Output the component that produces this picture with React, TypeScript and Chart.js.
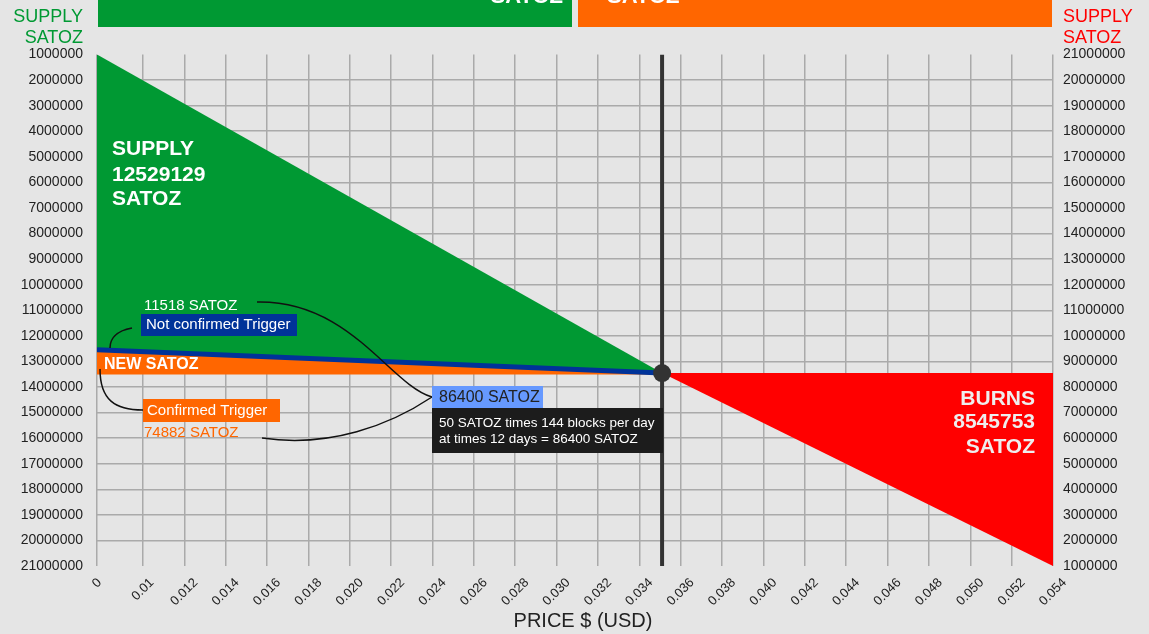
import React, { useEffect, useRef } from "react";
import { Chart, registerables } from "chart.js";

Chart.register(...registerables);

// ---- data ----
const X_LABELS = ["0", "0.01", "0.012", "0.014", "0.016", "0.018", "0.020", "0.022", "0.024", "0.026", "0.028", "0.030", "0.032", "0.034", "0.036", "0.038", "0.040", "0.042", "0.044", "0.046", "0.048", "0.050", "0.052", "0.054"];
// tick positions on the index scale ("0" sits a bit further left than the regular spacing)
const X_TICK_POS = [-1.11, 0, 1, 2, 3, 4, 5, 6, 7, 8, 9, 10, 11, 12, 13, 14, 15, 16, 17, 18, 19, 20, 21, 22];

const Y_MIN = 1000000;
const Y_MAX = 21000000;
const Y_STEP = 1000000;

// left part (supply), x on index scale
const SUPPLY_X = [-1.11, 12.55];
const SUPPLY_TOP = [1000000, 13454247];
const SUPPLY_BOTTOM = [12543000, 13454247];
const NEW_SATOZ_BOTTOM = [13512000, 13512000];

// right part (burns), values on the right axis
const BURN_X = [12.55, 22];
const BURN_TOP = [8545753, 8545753];
const BURN_BOTTOM = [8545753, 1000000];

const PRICE_X = 12.55;
const PRICE_POINT = 13454247;

const GREEN = "#009933";
const ORANGE = "#ff6600";
const RED = "#ff0000";
const BLUE = "#003399";
const FONT = '"Liberation Sans", Arial, sans-serif';

const zip = (xs: number[], ys: number[]) => xs.map((x, i) => ({ x, y: ys[i] }));

const annotate = {
  id: "annotate",
  afterDraw(chart: any) {
    const ctx = chart.ctx as CanvasRenderingContext2D;
    ctx.save();

    // rotated x tick labels, centred on their tick
    const xs = chart.scales.x;
    ctx.fillStyle = "#222";
    ctx.font = `13px ${FONT}`;
    ctx.textAlign = "center";
    ctx.textBaseline = "middle";
    const top = chart.chartArea.bottom + 11;
    X_LABELS.forEach((lab, i) => {
      const px = xs.getPixelForValue(X_TICK_POS[i]);
      const w = ctx.measureText(lab).width;
      const cy = top + (w + 10) * 0.3536;
      ctx.save();
      ctx.translate(px, cy);
      ctx.rotate(-Math.PI / 4);
      ctx.fillText(lab, 0, 0);
      ctx.restore();
    });

    // top bars
    ctx.fillStyle = GREEN;
    ctx.fillRect(98, 0, 474, 27);
    ctx.fillStyle = ORANGE;
    ctx.fillRect(578, 0, 474, 27);
    ctx.fillStyle = "#ffffff";
    ctx.font = `bold 22px ${FONT}`;
    ctx.textBaseline = "alphabetic";
    ctx.textAlign = "right";
    ctx.fillText("SATOZ", 563, 3);
    ctx.textAlign = "left";
    ctx.fillText("SATOZ", 607, 3);

    // axis titles
    ctx.font = `18px ${FONT}`;
    ctx.textBaseline = "middle";
    ctx.fillStyle = GREEN;
    ctx.textAlign = "right";
    ctx.fillText("SUPPLY", 83, 17);
    ctx.fillText("SATOZ", 83, 38);
    ctx.fillStyle = RED;
    ctx.textAlign = "left";
    ctx.fillText("SUPPLY", 1063, 17);
    ctx.fillText("SATOZ", 1063, 38);

    ctx.fillStyle = "#222";
    ctx.textAlign = "center";
    ctx.font = `20px ${FONT}`;
    ctx.fillText("PRICE $ (USD)", 583, 621);

    // connectors
    ctx.strokeStyle = "#111";
    ctx.lineWidth = 1.5;
    ctx.beginPath();
    ctx.moveTo(257, 302);
    ctx.bezierCurveTo(350, 300, 390, 385, 432, 397);
    ctx.moveTo(262, 438);
    ctx.bezierCurveTo(330, 448, 390, 425, 432, 397);
    ctx.moveTo(132, 328);
    ctx.bezierCurveTo(115, 331, 110, 340, 110, 348);
    ctx.moveTo(100, 369);
    ctx.bezierCurveTo(100, 400, 115, 410, 143, 410);
    ctx.stroke();

    // big labels
    ctx.fillStyle = "#ffffff";
    ctx.textAlign = "left";
    ctx.font = `bold 21px ${FONT}`;
    ctx.fillText("SUPPLY", 112, 149);
    ctx.fillText("12529129", 112, 175);
    ctx.fillText("SATOZ", 112, 199.5);

    ctx.fillStyle = "#eeeeee";
    ctx.textAlign = "right";
    ctx.fillText("BURNS", 1035, 399);
    ctx.fillText("8545753", 1035, 422.5);
    ctx.fillText("SATOZ", 1035, 447);

    ctx.fillStyle = "#ffffff";
    ctx.textAlign = "left";
    ctx.font = `bold 16px ${FONT}`;
    ctx.fillText("NEW SATOZ", 104, 365);

    ctx.font = `15px ${FONT}`;
    ctx.fillText("11518 SATOZ", 144, 305.5);

    ctx.fillStyle = BLUE;
    ctx.fillRect(141, 314, 156, 22);
    ctx.fillStyle = "#ffffff";
    ctx.fillText("Not confirmed Trigger", 146, 325);

    ctx.fillStyle = ORANGE;
    ctx.fillRect(143, 399, 137, 23);
    ctx.fillStyle = "#ffffff";
    ctx.fillText("Confirmed Trigger", 147, 410.5);

    ctx.fillStyle = ORANGE;
    ctx.fillText("74882 SATOZ", 144, 433);

    ctx.fillStyle = "#6699ff";
    ctx.fillRect(432, 386, 111, 22);
    ctx.fillStyle = "#222";
    ctx.font = `16px ${FONT}`;
    ctx.fillText("86400 SATOZ", 439, 397.5);

    ctx.fillStyle = "#1c1c1c";
    ctx.fillRect(432, 408, 231, 45);
    ctx.fillStyle = "#ffffff";
    ctx.font = `13.5px ${FONT}`;
    ctx.fillText("50 SATOZ times 144 blocks per day", 439, 423.5);
    ctx.fillText("at times 12 days = 86400 SATOZ", 439, 439);
    ctx.restore();
  },
};

export default function App() {
  const ref = useRef<HTMLCanvasElement | null>(null);
  useEffect(() => {
    if (!ref.current) return;
    const gridColor = "#aaaaaa";
    const chart = new Chart(ref.current, {
      type: "line",
      data: {
        datasets: [
          {
            data: zip(SUPPLY_X, SUPPLY_TOP),
            yAxisID: "y",
            borderWidth: 0,
            borderColor: GREEN,
            backgroundColor: GREEN,
            fill: "+1",
            pointRadius: 0,
            order: 7,
          },
          {
            data: zip(SUPPLY_X, SUPPLY_BOTTOM),
            yAxisID: "y",
            borderWidth: 5,
            borderColor: BLUE,
            backgroundColor: ORANGE,
            fill: "+1",
            pointRadius: 0,
            order: 6,
          },
          {
            data: zip(SUPPLY_X, NEW_SATOZ_BOTTOM),
            yAxisID: "y",
            borderWidth: 0,
            borderColor: ORANGE,
            fill: false,
            pointRadius: 0,
            order: 5,
          },
          {
            data: zip(BURN_X, BURN_TOP),
            yAxisID: "y2",
            borderWidth: 0,
            borderColor: RED,
            backgroundColor: RED,
            fill: "+1",
            pointRadius: 0,
            order: 4,
          },
          {
            data: zip(BURN_X, BURN_BOTTOM),
            yAxisID: "y2",
            borderWidth: 0,
            borderColor: RED,
            fill: false,
            pointRadius: 0,
            order: 3,
          },
          {
            data: [
              { x: PRICE_X, y: Y_MIN },
              { x: PRICE_X, y: Y_MAX },
            ],
            yAxisID: "y",
            borderWidth: 4,
            borderColor: "#333333",
            fill: false,
            pointRadius: 0,
            order: 2,
          },
          {
            data: [{ x: PRICE_X, y: PRICE_POINT }],
            yAxisID: "y",
            showLine: false,
            pointRadius: 9,
            pointBorderWidth: 0,
            pointBackgroundColor: "#333333",
            pointBorderColor: "#333333",
            order: 1,
          },
        ],
      },
      options: {
        animation: false,
        responsive: false,
        maintainAspectRatio: false,
        devicePixelRatio: 1,
        layout: { padding: { top: 54.5, left: 0, right: 0, bottom: 0 } },
        plugins: { legend: { display: false }, tooltip: { enabled: false } },
        elements: { line: { tension: 0 } },
        scales: {
          x: {
            type: "linear",
            min: X_TICK_POS[0],
            max: X_TICK_POS[X_TICK_POS.length - 1],
            afterBuildTicks: (scale: any) => {
              scale.ticks = X_TICK_POS.map((v) => ({ value: v }));
            },
            afterFit: (scale: any) => {
              scale.height = 68;
            },
            ticks: {
              display: false,
              autoSkip: false,
              callback: (_v: any, i: number) => X_LABELS[i],
            },
            grid: { color: gridColor, lineWidth: 1.5, drawTicks: false },
            border: { display: false },
          },
          y: {
            type: "linear",
            position: "left",
            reverse: true,
            min: Y_MIN,
            max: Y_MAX,
            afterFit: (scale: any) => {
              scale.width = 97;
            },
            ticks: {
              stepSize: Y_STEP,
              padding: 14,
              color: "#222",
              font: { family: FONT, size: 14 },
              callback: (v: any) => String(v),
            },
            grid: {
              drawTicks: false,
              lineWidth: 1.5,
              color: (c: any) =>
                c.index === 0 || c.index === 20 ? "rgba(0,0,0,0)" : gridColor,
            },
            border: { display: false },
          },
          y2: {
            type: "linear",
            position: "right",
            min: Y_MIN,
            max: Y_MAX,
            afterFit: (scale: any) => {
              scale.width = 96;
            },
            ticks: {
              stepSize: Y_STEP,
              padding: 10,
              color: "#222",
              font: { family: FONT, size: 14 },
              callback: (v: any) => String(v),
            },
            grid: { display: false, drawTicks: false },
            border: { display: false },
          },
        },
      },
      plugins: [annotate],
    } as any);
    return () => chart.destroy();
  }, []);

  return (
    <div
      style={{
        position: "fixed",
        left: 0,
        top: 0,
        width: 1149,
        height: 634,
        background: "#e5e5e5",
      }}
    >
      <canvas ref={ref} width={1149} height={634} style={{ display: "block" }} />
    </div>
  );
}
